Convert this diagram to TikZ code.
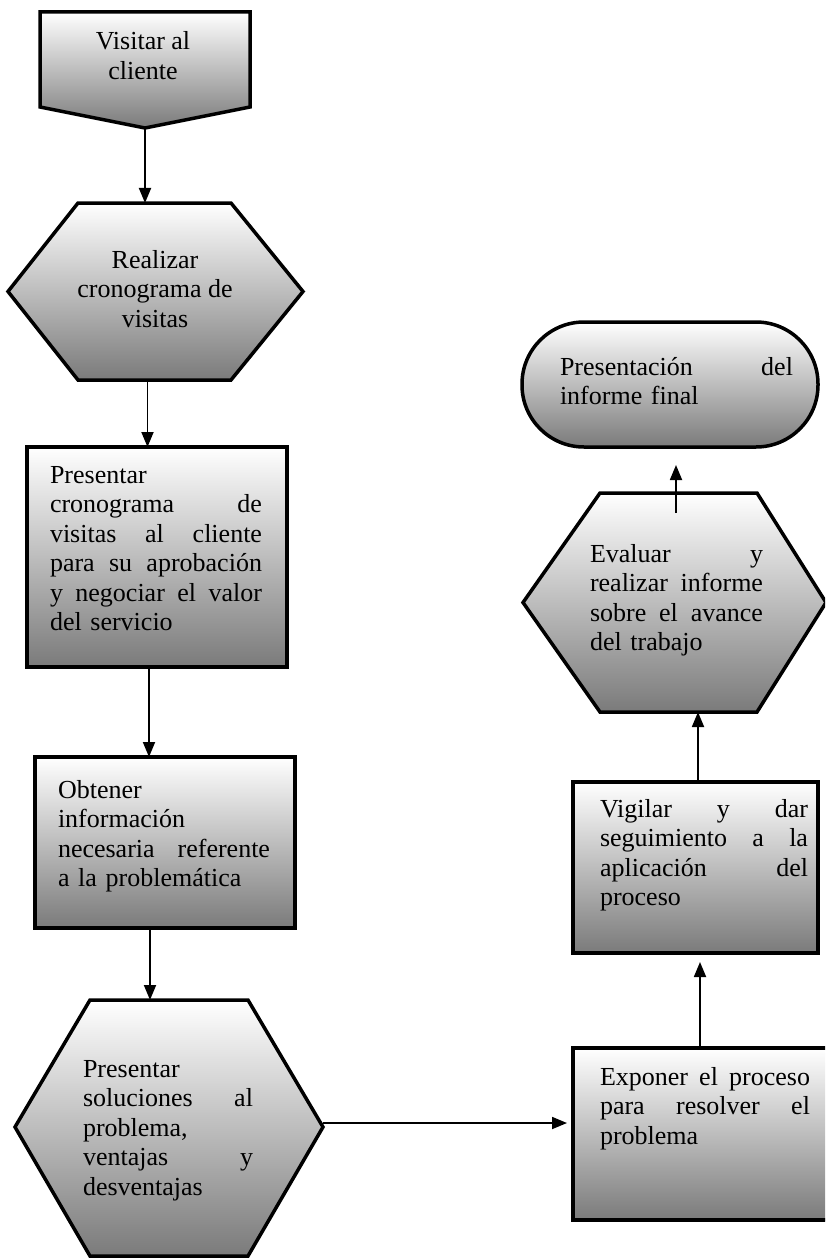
\documentclass[tikz,border=0pt]{standalone}
\usepackage{fontspec}
\setmainfont{Liberation Serif}
\usetikzlibrary{arrows.meta}
\begin{document}
\begin{tikzpicture}[x=1pt,y=-1pt,
  shp/.style={draw=black, line width=3.5pt, line join=miter, top color=white, bottom color=black!52},
  anch/.style={inner sep=0pt, outer sep=0pt},
  txt/.style={inner sep=0pt, outer sep=0pt, text width=#1, align=left, anchor=north west, font=\fontsize{26}{29.5}\selectfont},
  ctxt/.style={inner sep=0pt, outer sep=0pt, align=center, anchor=north, font=\fontsize{26}{29.5}\selectfont},
  arr/.style={line width=1.8pt, -{Triangle[width=12pt,length=15pt]}}]
\useasboundingbox (0,0) rectangle (825,1260);
\clip (0,0) rectangle (825,1260);

% 1 off-page connector
\draw[shp] (40,12) -- (250,12) -- (250,107) -- (145,128) -- (40,107) -- cycle;
\node[anch, minimum width=210pt, minimum height=116pt] (n1) at (145,70) {};
\node[ctxt] (t1) at (143,30) {\rule{0pt}{20pt}Visitar al\\cliente};

% 2 hexagon
\draw[shp] (78,203) -- (231,203) -- (303,291.5) -- (231,380) -- (78,380) -- (8,291.5) -- cycle;
\node[anch, minimum width=295pt, minimum height=177pt] (n2) at (155.5,291.5) {};
\node[ctxt] (t2) at (155,248) {\rule{0pt}{20pt}Realizar\\cronograma de\\visitas};

% 3 box
\node[shp, anch, minimum width=260pt, minimum height=220pt] (n3) at (157,557) {};
\node[txt=212pt] (t3) at (50,463) {\rule{0pt}{20pt}Presentar\\cronograma\hfill de\\visitas\hfill al\hfill cliente\\para\hfill su\hfill aprobación\\y\hfill negociar\hfill el\hfill valor\\del servicio};

% 4 box
\node[shp, anch, minimum width=260pt, minimum height=171pt] (n4) at (165,842.5) {};
\node[txt=212pt] (t4) at (58,778) {\rule{0pt}{20pt}Obtener\\información\\necesaria\hfill referente\\a la problemática};

% 5 hexagon
\draw[shp] (90,1000) -- (248,1000) -- (323,1127) -- (248,1256) -- (90,1256) -- (15,1127) -- cycle;
\node[anch, minimum width=308pt, minimum height=256pt] (n5) at (169,1128) {};
\node[txt=170pt] (t5) at (83,1057) {\rule{0pt}{20pt}Presentar\\soluciones\hfill al\\problema,\\ventajas\hfill y\\desventajas};

% 6 box
\node[shp, anch, minimum width=267pt, minimum height=172pt] (n6) at (706.5,1134) {};
\node[txt=210pt] (t6) at (600,1065) {\rule{0pt}{20pt}Exponer\hfill el\hfill proceso\\para\hfill resolver\hfill el\\problema};

% 7 box
\node[shp, anch, minimum width=245pt, minimum height=171pt] (n7) at (695.5,867.5) {};
\node[txt=208pt] (t7) at (600,797) {\rule{0pt}{20pt}Vigilar\hfill y\hfill dar\\seguimiento\hfill a\hfill la\\aplicación\hfill del\\proceso};

% 8 hexagon
\draw[shp] (600,493) -- (757,493) -- (826,602.5) -- (757,712) -- (600,712) -- (523,602.5) -- cycle;
\node[anch, minimum width=303pt, minimum height=219pt] (n8) at (674.5,602.5) {};
\node[txt=173pt] (t8) at (590,542) {\rule{0pt}{20pt}Evaluar\hfill y\\realizar\hfill informe\\sobre\hfill el\hfill avance\\del trabajo};

% 9 terminal
\node[shp, anch, rounded corners=62pt, minimum width=296pt, minimum height=125pt] (n9) at (670,384.5) {};
\node[txt=233pt] (t9) at (560,355) {\rule{0pt}{20pt}Presentación\hfill del\\informe final};

% connectors
\draw[arr] (n1.south) -- (n1.south |- n2.north);
\draw[arr] ([xshift=-8pt]n2.south) -- ([xshift=-8pt]n2.south |- n3.north);
\draw[arr] ([xshift=-8pt]n3.south) -- ([xshift=-8pt]n3.south |- n4.north);
\draw[arr] ([xshift=-15pt]n4.south) -- ([xshift=-15pt]n4.south |- n5.north);
\draw[arr, shorten >=6pt] ([yshift=5pt]n5.east) -- ([yshift=5pt]n5.east -| n6.west);
\draw[arr, shorten >=9pt] ([xshift=-6.5pt]n6.north) -- ([xshift=-6.5pt]n6.north |- n7.south);
\draw[arr] ([xshift=2.5pt]n7.north) -- ([xshift=2.5pt]n7.north |- n8.south);
\draw[arr, shorten >=18pt] ([xshift=1.5pt,yshift=-20pt]n8.north) -- ([xshift=1.5pt]n8.north |- n9.south);
\end{tikzpicture}
\end{document}
